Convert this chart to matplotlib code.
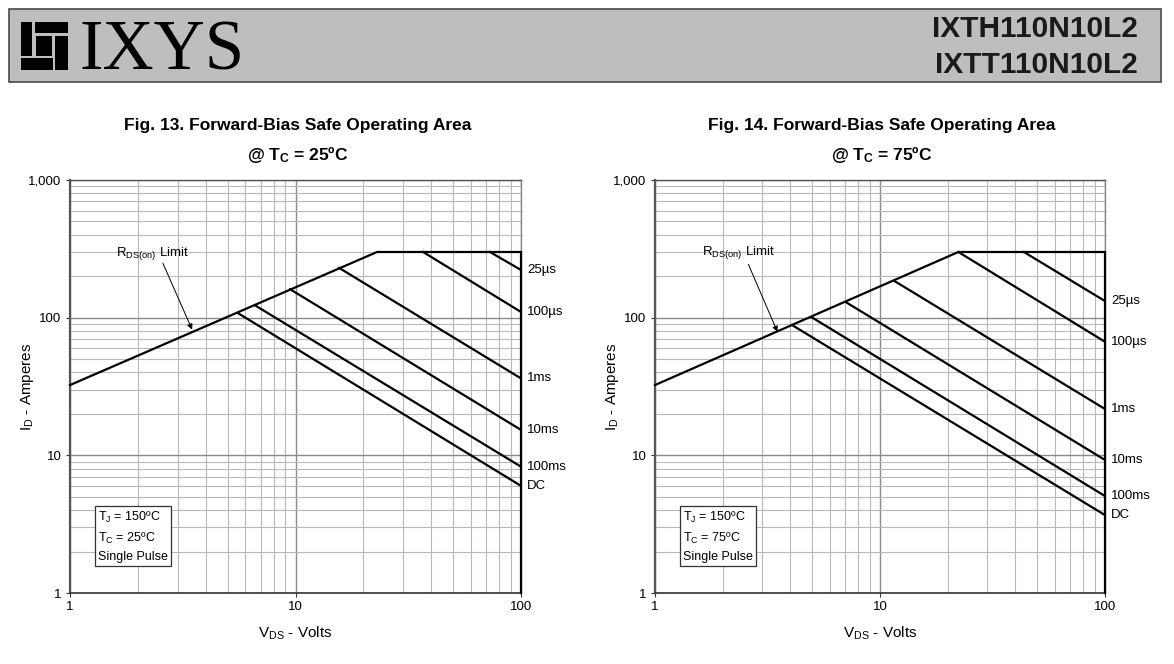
"""
Forward-bias SOA plots (Fig. 13 / Fig. 14) for IXTH110N10L2 / IXTT110N10L2.
Writes out.png
"""

import matplotlib
matplotlib.use("Agg")
import matplotlib.pyplot as plt
from matplotlib.patches import Rectangle

# ─────────────────────────── DATA ───────────────────────────
# Envelope: RDS(on) limit rising, then current limit at 300 A, then 100 V wall
ENV_V_25 = [1.0, 23.0, 100.0, 100.0]
ENV_I_25 = [32.4, 300.0, 300.0, 1.0]
ENV_V_75 = [1.0, 22.3, 100.0, 100.0]
ENV_I_75 = [32.4, 300.0, 300.0, 1.0]

PULSE_LABELS = ["25µs", "100µs", "1ms", "10ms", "100ms", "DC"]

# start point of each pulse line (on the envelope) and its current at 100 V
START_V_25 = [72.8, 36.8, 15.6, 9.46, 6.61, 5.58]
START_I_25 = [300.0, 300.0, 230.0, 161.0, 123.0, 107.5]
END_I_25   = [222.0, 110.0, 36.2, 15.3, 8.27, 6.0]

START_V_75 = [43.6, 22.3, 11.6, 7.09, 4.98, 4.07]
START_I_75 = [300.0, 300.0, 184.5, 129.0, 100.5, 88.3]
END_I_75   = [132.0, 66.8, 21.7, 9.25, 5.06, 3.68]

V_MAX = 100.0

X_TICKS  = [1, 10, 100]
X_LABELS = ["1", "10", "100"]
Y_TICKS  = [1, 10, 100, 1000]
Y_LABELS = ["1", "10", "100", "1,000"]

# ─────────────────────────── STYLE ───────────────────────────
plt.rcParams.update({
    "font.family":       "Liberation Sans",
    "mathtext.fontset":  "custom",
    "mathtext.rm":       "Liberation Sans",
    "mathtext.bf":       "Liberation Sans:bold",
    "mathtext.it":       "Liberation Sans:italic",
    "font.size":         9,
})

W, H = 1174, 664
fig = plt.figure(figsize=(W / 100, H / 100), dpi=100)
fig.patch.set_facecolor("white")


def fx(px):
    return px / W


def fy(py):
    return 1 - py / H


def fig_rect(x0, y0, x1, y1, **kw):
    fig.patches.append(Rectangle((fx(x0), fy(y1)), fx(x1) - fx(x0), fy(y0) - fy(y1),
                                 transform=fig.transFigure, **kw))


# ─────────────────────────── HEADER ───────────────────────────
fig_rect(9, 9, 1161, 82, facecolor="#bebec0", edgecolor="#4a4a4a", linewidth=1.2)

# logo block
for x0, y0, x1, y1 in [(21.0, 22.3, 32.1, 55.7), (34.6, 22.3, 67.5, 33.3),
                       (54.8, 35.7, 67.5, 70.0), (21.0, 57.6, 52.5, 70.0),
                       (36.0, 35.7, 51.5, 55.7)]:
    fig_rect(x0, y0, x1, y1, facecolor="black", edgecolor="none")

fig.text(fx(79), fy(70), "IXYS", family="Liberation Serif", fontsize=51,
         ha="left", va="baseline", color="black")
fig.text(fx(1138), fy(36.7), "IXTH110N10L2", fontsize=21.5, fontweight="bold",
         ha="right", va="baseline", color="#1a1a1a")
fig.text(fx(1138), fy(72.7), "IXTT110N10L2", fontsize=21.5, fontweight="bold",
         ha="right", va="baseline", color="#1a1a1a")


# ─────────────────────────── PLOTS ───────────────────────────
def soa_panel(left_px, right_px, env_v, env_i, start_v, start_i, end_i,
              fig_no, tc, text_xy, tip, tail):
    ax = fig.add_axes([fx(left_px), fy(593), fx(right_px) - fx(left_px), fy(180) - fy(593)])
    ax.set_xscale("log")
    ax.set_yscale("log")
    ax.set_xlim(1, 100)
    ax.set_ylim(1, 1000)

    ax.grid(True, which="minor", color="#b8b8b8", linewidth=0.8)
    ax.grid(True, which="major", color="#8a8a8a", linewidth=1.0)
    ax.set_axisbelow(True)

    ax.set_xticks(X_TICKS)
    ax.set_xticklabels(X_LABELS)
    ax.set_yticks(Y_TICKS)
    ax.set_yticklabels(Y_LABELS)
    ax.tick_params(which="minor", length=0)
    ax.tick_params(which="major", length=3, width=0.8, colors="#333333",
                   labelcolor="black", labelsize=9.5, pad=3)

    ax.spines["left"].set_color("#555555")
    ax.spines["left"].set_linewidth(1.6)
    ax.spines["bottom"].set_color("#333333")
    ax.spines["bottom"].set_linewidth(1.2)
    ax.spines["top"].set_color("#555555")
    ax.spines["top"].set_linewidth(1.0)
    ax.spines["right"].set_color("#888888")
    ax.spines["right"].set_linewidth(1.0)

    # envelope
    ax.plot(env_v, env_i, color="black", linewidth=1.6, solid_joinstyle="miter",
            clip_on=False, zorder=5)
    # pulse-width lines
    for lab, sv, si, ei in zip(PULSE_LABELS, start_v, start_i, end_i):
        ax.plot([sv, V_MAX], [si, ei], color="black", linewidth=1.6, zorder=5)
        ax.annotate(lab, xy=(V_MAX, ei), xytext=(4.5, 0), textcoords="offset points",
                    ha="left", va="center", fontsize=9.5, annotation_clip=False)

    # RDS(on) limit callout
    ax.text(text_xy[0], text_xy[1], r"$\mathrm{R_{DS(on)}}$ Limit", fontsize=9.5,
            ha="center", va="center", zorder=6)
    ax.annotate("", xy=tip, xytext=tail,
                arrowprops=dict(arrowstyle="-|>", color="black", lw=0.7,
                                mutation_scale=8, shrinkA=0, shrinkB=0), zorder=6)

    # conditions box
    ax.text(0.062, 0.072,
            "$\\mathrm{T_J}$ = 150ºC\n$\\mathrm{T_C}$ = %sºC\nSingle Pulse" % tc,
            transform=ax.transAxes, fontsize=9, ha="left", va="bottom",
            linespacing=1.55, zorder=7,
            bbox=dict(boxstyle="square,pad=0.25", facecolor="white",
                      edgecolor="#333333", linewidth=0.9))

    ax.set_xlabel(r"$\mathrm{V_{DS}}$ - Volts", fontsize=11, labelpad=8)
    ax.set_ylabel(r"$\mathrm{I_D}$ - Amperes", fontsize=11)
    ax.yaxis.set_label_coords(-0.076, 0.5)

    cx = (left_px + right_px) / 2
    fig.text(fx(cx + 2), fy(130), "Fig. %s. Forward-Bias Safe Operating Area" % fig_no,
             fontsize=12.5, fontweight="bold", ha="center", va="baseline")
    fig.text(fx(cx + 2), fy(160), r"@ $\mathbf{T_C}$ = %sºC" % tc,
             fontsize=12.5, fontweight="bold", ha="center", va="baseline")
    return ax


soa_panel(70, 521, ENV_V_25, ENV_I_25, START_V_25, START_I_25, END_I_25,
          "13", "25", text_xy=(2.33, 294), tip=(3.48, 82), tail=(2.58, 249))
soa_panel(655, 1105, ENV_V_75, ENV_I_75, START_V_75, START_I_75, END_I_75,
          "14", "75", text_xy=(2.36, 295), tip=(3.50, 79), tail=(2.60, 244))

fig.savefig("out.png", dpi=100)
